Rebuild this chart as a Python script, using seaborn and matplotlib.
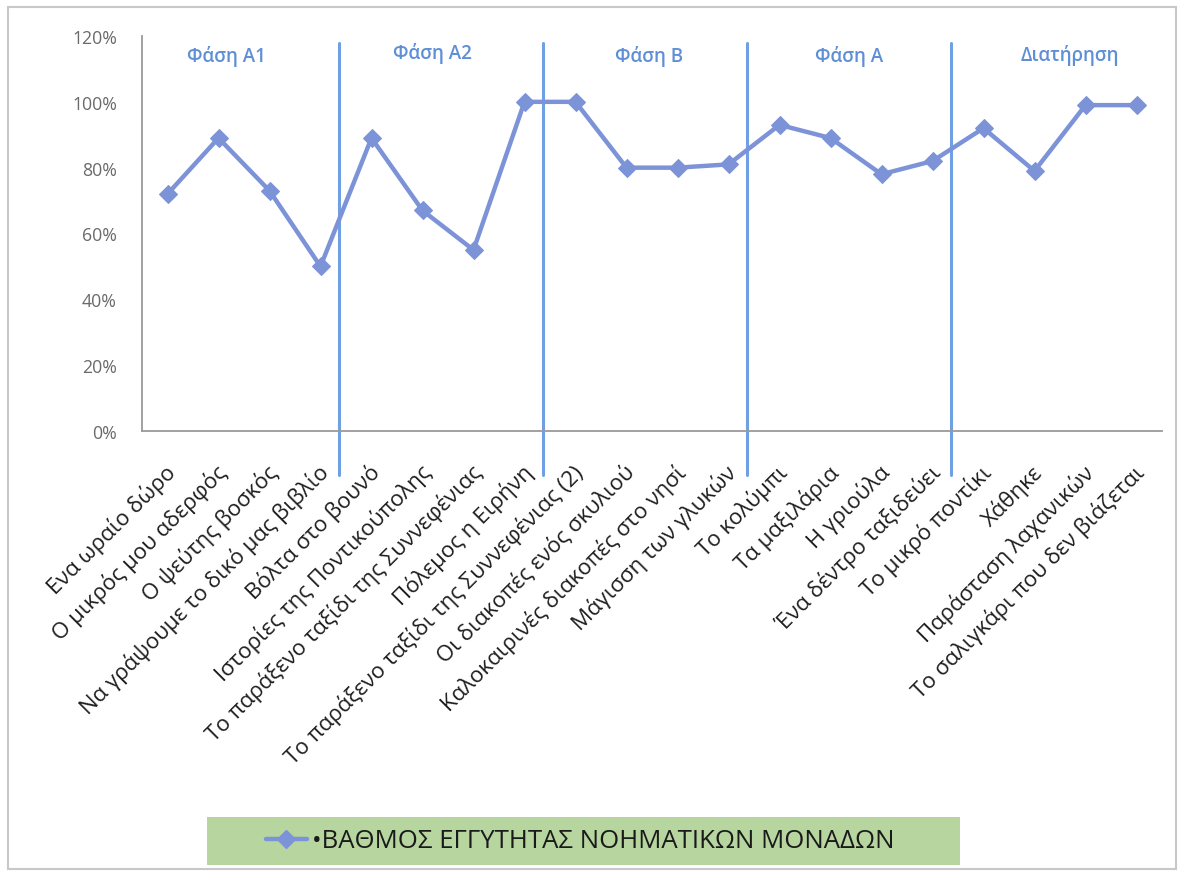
import matplotlib
matplotlib.use("Agg")
import matplotlib.pyplot as plt
from matplotlib.ticker import PercentFormatter, FixedLocator
from matplotlib.lines import Line2D
from matplotlib.patches import Rectangle
from matplotlib.transforms import ScaledTranslation
import pandas as pd
import seaborn as sns

# Story titles (one per session) and closeness scores
stories = [
    "Ενα ωραίο δώρο",
    "Ο μικρός μου αδερφός",
    "Ο ψεύτης βοσκός",
    "Να γράψουμε το δικό μας βιβλίο",
    "Βόλτα στο βουνό",
    "Ιστορίες της Ποντικούπολης",
    "Το παράξενο ταξίδι της Συννεφένιας",
    "Πόλεμος η Ειρήνη",
    "Το παράξενο ταξίδι της Συννεφένιας (2)",
    "Οι διακοπές ενός σκυλιού",
    "Καλοκαιρινές διακοπές στο νησί",
    "Μάγισση των γλυκών",
    "Το κολύμπι",
    "Τα μαξιλάρια",
    "Η γριούλα",
    "Ένα δέντρο ταξιδεύει",
    "Το μικρό ποντίκι",
    "Χάθηκε",
    "Παράσταση λαχανικών",
    "Το σαλιγκάρι που δεν βιάζεται",
]
scores = [0.72, 0.89, 0.73, 0.50, 0.89, 0.67, 0.55, 1.00, 1.00, 0.80,
          0.80, 0.81, 0.93, 0.89, 0.78, 0.82, 0.92, 0.79, 0.99, 0.99]

phase_names = ["Φάση Α1", "Φάση Α2", "Φάση Β", "Φάση Α", "Διατήρηση"]
phase_starts = [0, 4, 8, 12, 16]

series_name = "ΒΑΘΜΟΣ ΕΓΓΥΤΗΤΑΣ ΝΟΗΜΑΤΙΚΩΝ ΜΟΝΑΔΩΝ"

df = pd.DataFrame({"idx": range(len(stories)), "score": scores})

sns.set_theme(style="white")
plt.rcParams["font.family"] = ["Open Sans", "DejaVu Sans"]

LINE_COLOR = "#7d93d8"
PHASE_COLOR = "#6fa0e6"
PHASE_TEXT = "#5f8fd6"

fig = plt.figure(figsize=(11.83, 8.78), dpi=100)
ax = fig.add_axes([142 / 1183, 1 - 432 / 878, (1162 - 142) / 1183, (432 - 37) / 878])

sns.lineplot(data=df, x="idx", y="score", ax=ax, color=LINE_COLOR,
             linewidth=3.2, marker="D", markersize=9,
             markerfacecolor=LINE_COLOR, markeredgecolor=LINE_COLOR,
             legend=False)

ax.set_xlim(-0.5, len(stories) - 0.5)
ax.set_ylim(0, 1.2)
ax.yaxis.set_major_locator(FixedLocator([0, 0.2, 0.4, 0.6, 0.8, 1.0, 1.2]))
ax.yaxis.set_major_formatter(PercentFormatter(1.0, decimals=0))
ax.set_xticks(range(len(stories)))
ax.set_xticklabels(stories, rotation=45, ha="right", va="center",
                   rotation_mode="anchor", fontsize=16, color="#1e1e1e")
ax.tick_params(axis="x", length=0, pad=27)
ax.tick_params(axis="y", length=0, pad=18, labelsize=12.7, labelcolor="#6a6a6a")
shift_right = ScaledTranslation(5 / 100, 0, fig.dpi_scale_trans)
for lab in ax.get_xticklabels():
    lab.set_transform(lab.get_transform() + shift_right)
ax.set_xlabel("")
ax.set_ylabel("")

for side in ["top", "right"]:
    ax.spines[side].set_visible(False)
for side in ["left", "bottom"]:
    ax.spines[side].set_color("#9a9a9a")
    ax.spines[side].set_linewidth(1.3)

# Phase separators, running a little below the horizontal axis
shift = -0.13
for s in phase_starts[1:]:
    ax.plot([s - 0.5 + shift] * 2, [-0.135, 1.18], color=PHASE_COLOR,
            linewidth=2.2, clip_on=False, zorder=1)

# Phase titles
label_x = [1.16, 5.2, 9.45, 13.37, 17.7]
label_y = [1.14, 1.15, 1.14, 1.14, 1.145]
for name, x, y in zip(phase_names, label_x, label_y):
    ax.text(x, y, name, ha="center", va="center", fontsize=13.5,
            fontweight="semibold", color=PHASE_TEXT)

# Outer chart frame
fig.patches.append(Rectangle((8 / 1183, 8 / 878), (1176 - 8) / 1183, (870 - 8) / 878,
                             transform=fig.transFigure, fill=False,
                             edgecolor="#c8c8c8", linewidth=1.5))

# Legend on a green band
fig.patches.append(Rectangle((207 / 1183, 1 - 866 / 878), (960 - 207) / 1183, 48 / 878,
                             transform=fig.transFigure, facecolor="#b6d59f",
                             edgecolor="none", zorder=0))
handle = Line2D([], [], color=LINE_COLOR, linewidth=3.2, marker="D",
                markersize=9, markerfacecolor=LINE_COLOR, markeredgecolor=LINE_COLOR)
leg = fig.legend([handle], ["•" + series_name], loc="center",
                 bbox_to_anchor=(580 / 1183, 1 - 842 / 878), frameon=False,
                 fontsize=18.5, handlelength=1.6, handletextpad=0.2)
for t in leg.get_texts():
    t.set_color("#1a1a1a")

fig.savefig("out.png", dpi=100, facecolor="white")
